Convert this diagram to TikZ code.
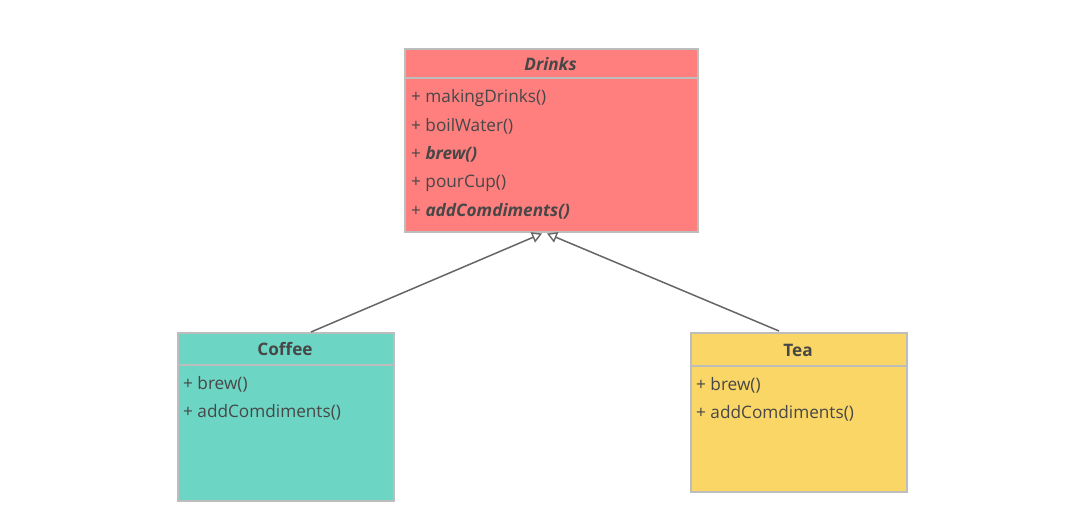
\documentclass[tikz,border=0pt]{standalone}
\usepackage{fontspec}
\setmainfont{Open Sans}
\usetikzlibrary{arrows.meta,calc}
\definecolor{drinkfill}{HTML}{FF7F7F}
\definecolor{coffeefill}{HTML}{6DD5C4}
\definecolor{teafill}{HTML}{FAD666}
\definecolor{boxline}{HTML}{BDBDBD}
\definecolor{txt}{HTML}{474747}
\definecolor{conn}{HTML}{666666}
\tikzset{
  classbox/.style={draw=boxline, line width=1.5pt, rectangle, inner sep=0pt, anchor=north west},
  divider/.style={draw=boxline, line width=1.5pt},
  member/.style={anchor=west, inner sep=0pt, text=txt, font=\fontsize{17.2}{19}\selectfont},
  title/.style={anchor=center, inner sep=0pt, text=txt, font=\fontsize{17.2}{19}\selectfont\bfseries},
  inherit/.style={draw=conn, line width=1.5pt, -{Triangle[open, length=10pt, width=11pt, line width=1.4pt]}}
}
\begin{document}
\begin{tikzpicture}[x=1pt,y=-1pt]
\useasboundingbox[fill=white] (0,0) rectangle (1080,528);
% boxes
\node[classbox, fill=drinkfill, minimum width=293pt, minimum height=183pt] (drinks) at (404,48) {};
\node[classbox, fill=coffeefill, minimum width=216pt, minimum height=168pt] (coffee) at (177,332) {};
\node[classbox, fill=teafill, minimum width=216pt, minimum height=159pt] (tea) at (690,332) {};
% dividers
\draw[divider] ([yshift=-30pt]drinks.north west) -- ([yshift=-30pt]drinks.north east);
\draw[divider] ([yshift=-33pt]coffee.north west) -- ([yshift=-33pt]coffee.north east);
\draw[divider] ([yshift=-34pt]tea.north west) -- ([yshift=-34pt]tea.north east);
% titles
\node[title] (drinkstitle) at (550.5,64) {\itshape Drinks};
\node[title] (coffeetitle) at (285,349) {Coffee};
\node[title] (teatitle) at (798,350) {Tea};
% members
\node[member] (d1) at (411,98) {+ makingDrinks()};
\node[member] (d2) at (411,126) {+ boilWater()};
\node[member] (d3) at (411,154) {+ \textbf{\textit{brew()}}};
\node[member] (d4) at (411,183) {+ pourCup()};
\node[member] (d5) at (411,211) {+ \textbf{\textit{addComdiments()}}};
\node[member] (c1) at (183,384) {+ brew()};
\node[member] (c2) at (183,412) {+ addComdiments()};
\node[member] (t1) at (696,385) {+ brew()};
\node[member] (t2) at (696,413) {+ addComdiments()};
% connectors
\coordinate (cstart) at ($(coffee.north west)+(134,0)$);
\coordinate (tstart) at ($(tea.north west)+(89,-1)$);
\coordinate (ctip) at ($(drinks.south west)+(138,1)$);
\coordinate (ttip) at ($(drinks.south west)+(143,1)$);
\draw[inherit] (cstart) -- (ctip);
\draw[inherit] (tstart) -- (ttip);
\end{tikzpicture}
\end{document}
